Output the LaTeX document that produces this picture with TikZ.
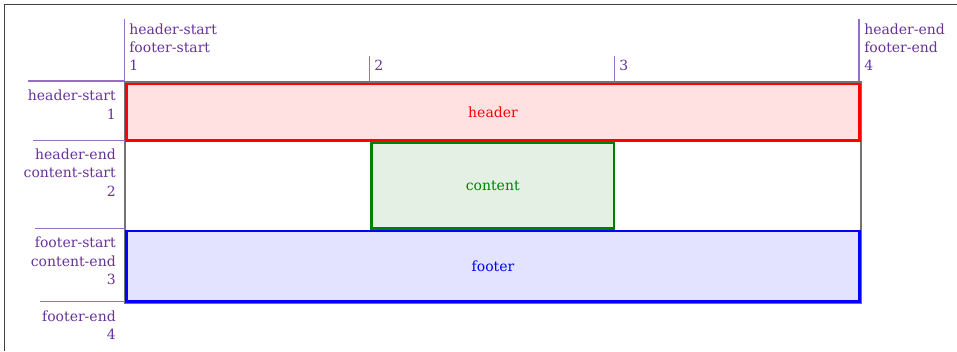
\documentclass[tikz,border=0pt]{standalone}
\usepackage{fontspec}
\setmainfont{DejaVu Serif}
\definecolor{lbl}{RGB}{102,51,153}
\definecolor{gline}{RGB}{150,110,200}
\definecolor{hfill}{RGB}{255,225,225}
\definecolor{cfill}{RGB}{229,240,229}
\definecolor{ffill}{RGB}{227,227,255}
\definecolor{cgreen}{RGB}{0,128,0}
\begin{document}
\begin{tikzpicture}[x=0.75pt,y=-0.75pt,
  lab/.style={inner sep=0pt,text=lbl,font=\fontsize{10.5}{13.5}\selectfont},
  labl/.style={lab,anchor=base west},
  labr/.style={lab,anchor=base east},
  gridline/.style={draw=gline,line width=0.9pt},
  item/.style={line width=1.9pt,inner sep=0pt,font=\fontsize{10.5}{13.5}\selectfont}]
\useasboundingbox (0,0) rectangle (957,351);
% outer frame
\draw[black!75,line width=1pt] (4.5,351) -- (4.5,4.5) -- (957,4.5);
% grid container
\draw[black!55,line width=1.5pt] (124.5,81.5) rectangle (860.5,303);
% items
\node[item,draw=red,fill=hfill,text=red,minimum width=549.75pt,minimum height=42.4pt] (header) at (493,112.3) {header};
\node[item,draw=cgreen,fill=cfill,text=cgreen,minimum width=181.9pt,minimum height=64.1pt] (content) at (492.75,185.9) {content};
\node[item,draw=blue,fill=ffill,text=blue,minimum width=549.75pt,minimum height=52.9pt] (footer) at (493,266.3) {footer};
% column lines
\draw[gridline] (124.5,19) -- (124.5,81);
\draw[gridline] (369.5,56) -- (369.5,81);
\draw[gridline] (614.3,56) -- (614.3,81);
\draw[gridline] (859,19) -- (859,81);
% row lines
\draw[gridline] (28,81) -- (124.5,81);
\draw[gridline] (33,140.5) -- (124.5,140.5);
\draw[gridline] (35,228.5) -- (124.5,228.5);
\draw[gridline] (40,301.7) -- (124.5,301.7);
% top labels
\node[labl] (c1a) at (129,34.3) {header-start};
\node[labl] (c1b) at (129,52.7) {footer-start};
\node[labl] (c1c) at (129,70.8) {1};
\node[labl] (c2) at (374,70.8) {2};
\node[labl] (c3) at (619,70.8) {3};
\node[labl] (c4a) at (864,34.3) {header-end};
\node[labl] (c4b) at (864,52.7) {footer-end};
\node[labl] (c4c) at (864,70.8) {4};
% left labels
\node[labr] (r1a) at (116,100.7) {header-start};
\node[labr] (r1b) at (116,119) {1};
\node[labr] (r2a) at (116,159.3) {header-end};
\node[labr] (r2b) at (116,177.7) {content-start};
\node[labr] (r2c) at (116,196) {2};
\node[labr] (r3a) at (116,247.7) {footer-start};
\node[labr] (r3b) at (116,266) {content-end};
\node[labr] (r3c) at (116,284.3) {3};
\node[labr] (r4a) at (116,321) {footer-end};
\node[labr] (r4b) at (116,339.3) {4};
\end{tikzpicture}
\end{document}
